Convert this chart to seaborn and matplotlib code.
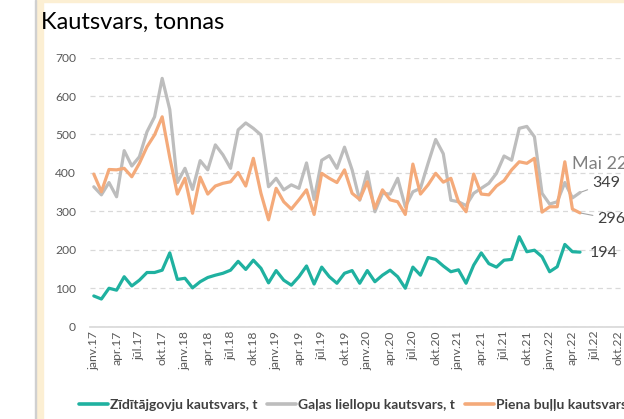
import pandas as pd
import seaborn as sns
import matplotlib.pyplot as plt
from matplotlib.lines import Line2D
from matplotlib.patches import Rectangle

# monthly values, janv.17 .. mai.22
zidītajgovju = [80, 72, 100, 95, 130, 106, 121, 141, 141, 147,
                192, 123, 126, 101, 117, 128, 134, 139, 147, 170,
                149, 173, 152, 114, 146, 121, 108, 130, 158, 111,
                155, 130, 113, 139, 146, 113, 146, 117, 134, 147,
                130, 100, 155, 134, 180, 175, 158, 143, 148, 113,
                160, 192, 164, 155, 173, 175, 234, 195, 199, 182,
                143, 156, 214, 195, 194]
galas_liellopu = [364, 343, 375, 338, 458, 418, 442, 507, 546, 646,
                  565, 375, 412, 357, 432, 408, 473, 447, 412, 512,
                  530, 516, 499, 364, 386, 356, 369, 360, 426, 331,
                  433, 445, 412, 467, 408, 329, 403, 299, 347, 345,
                  386, 312, 351, 360, 425, 487, 450, 329, 325, 315,
                  347, 360, 373, 399, 444, 433, 516, 521, 494, 347,
                  319, 325, 375, 335, 349]
piena_bullu = [397, 351, 409, 408, 412, 390, 425, 468, 499, 546,
               440, 345, 386, 295, 389, 345, 366, 373, 377, 401,
               366, 438, 347, 278, 360, 325, 306, 330, 356, 292,
               399, 386, 375, 408, 347, 331, 377, 308, 356, 330,
               325, 292, 423, 345, 369, 399, 376, 386, 325, 299,
               397, 345, 343, 366, 380, 408, 429, 425, 438, 298,
               312, 312, 429, 306, 296]

series_names = ["Zīdītājgovju kautsvars, t", "Gaļas liellopu kautsvars, t",
                "Piena buļļu kautsvars, t"]
colors = ["#1FB1A0", "#BDBDBD", "#F4AA7A"]

month_abbr = ["janv", "apr", "jūl", "okt"]
tick_labels = [f"{m}.{y}" for y in range(17, 23) for m in month_abbr]
n_months = 72  # axis runs janv.17 .. dec.22

rows = []
for name, vals in zip(series_names, [zidītajgovju, galas_liellopu, piena_bullu]):
    for i, v in enumerate(vals):
        rows.append({"menesis": i, "kautsvars": v, "serija": name})
df = pd.DataFrame(rows)

sns.set_theme(style="white")
plt.rcParams["font.family"] = ["Lato", "DejaVu Sans"]

W, H = 624, 419
fig = plt.figure(figsize=(W / 100, H / 100), dpi=100)
fig.patch.set_facecolor("white")

# frame of the original chart box
fig.patches.append(Rectangle((36 / W, 0), 7 / W, 1, transform=fig.transFigure,
                             color="#FCEFD3", zorder=0))
fig.patches.append(Rectangle((36 / W, 1 - 2 / H), 1, 2 / H, transform=fig.transFigure,
                             color="#FCEFD3", zorder=0))
fig.patches.append(Rectangle((35 / W, 0), 1 / W, 1, transform=fig.transFigure,
                             color="#D0D0D0", zorder=0))

left, right, bottom, top = 90, 637, 326.7, 57.6
ax = fig.add_axes([left / W, (H - bottom) / H, (right - left) / W, (bottom - top) / H])
ax.set_facecolor("none")

sns.lineplot(data=df, x="menesis", y="kautsvars", hue="serija",
             palette=dict(zip(series_names, colors)), linewidth=2.3,
             legend=False, ax=ax, solid_joinstyle="round", solid_capstyle="round")

ax.set_xlim(-0.5, n_months - 0.5)
ax.set_ylim(0, 700)
ax.set_yticks(range(0, 701, 100))
ax.set_xticks(range(0, n_months, 3))
ax.set_xticklabels(tick_labels, rotation=90)
ax.tick_params(axis="both", length=0, colors="#595959", labelsize=8.7)
ax.tick_params(axis="x", pad=3)
ax.tick_params(axis="y", pad=10)
ax.grid(axis="y", color="#D9D9D9", linestyle=(0, (4, 3)), linewidth=0.9)
ax.set_axisbelow(True)
for s in ["top", "right", "left"]:
    ax.spines[s].set_visible(False)
ax.spines["bottom"].set_color("#D9D9D9")
ax.set_xlabel("")
ax.set_ylabel("")

# end labels
last = len(zidītajgovju) - 1
ax.text(63.0, 422, "Mai 22", color="#808080", fontsize=13, va="center", ha="left")
ax.annotate(str(galas_liellopu[-1]), xy=(last, galas_liellopu[-1]), xytext=(65.6, 374),
            color="#404040", fontsize=11.5, va="center", ha="left",
            arrowprops=dict(arrowstyle="-", color="#A6A6A6", lw=0.8, shrinkA=1, shrinkB=1))
ax.annotate(str(piena_bullu[-1]), xy=(last, piena_bullu[-1]), xytext=(66.3, 280),
            color="#404040", fontsize=11.5, va="center", ha="left",
            arrowprops=dict(arrowstyle="-", color="#A6A6A6", lw=0.8, shrinkA=1, shrinkB=1))
ax.text(65.3, 192, str(zidītajgovju[-1]), color="#404040", fontsize=11.5,
        va="center", ha="left")

fig.text(41 / W, 1 - 22 / H, "Kautsvars, tonnas", fontsize=17, color="black",
         va="center", ha="left")

handles = [Line2D([0], [0], color=c, lw=2.6) for c in colors]
leg = fig.legend(handles, series_names, ncol=3, loc="center left",
                 bbox_to_anchor=(66 / W, 14 / H), frameon=False,
                 handlelength=2.1, handletextpad=0.15, columnspacing=0.7,
                 prop={"weight": "bold", "size": 10})
for t in leg.get_texts():
    t.set_color("#404040")

fig.savefig("out.png", dpi=100)
